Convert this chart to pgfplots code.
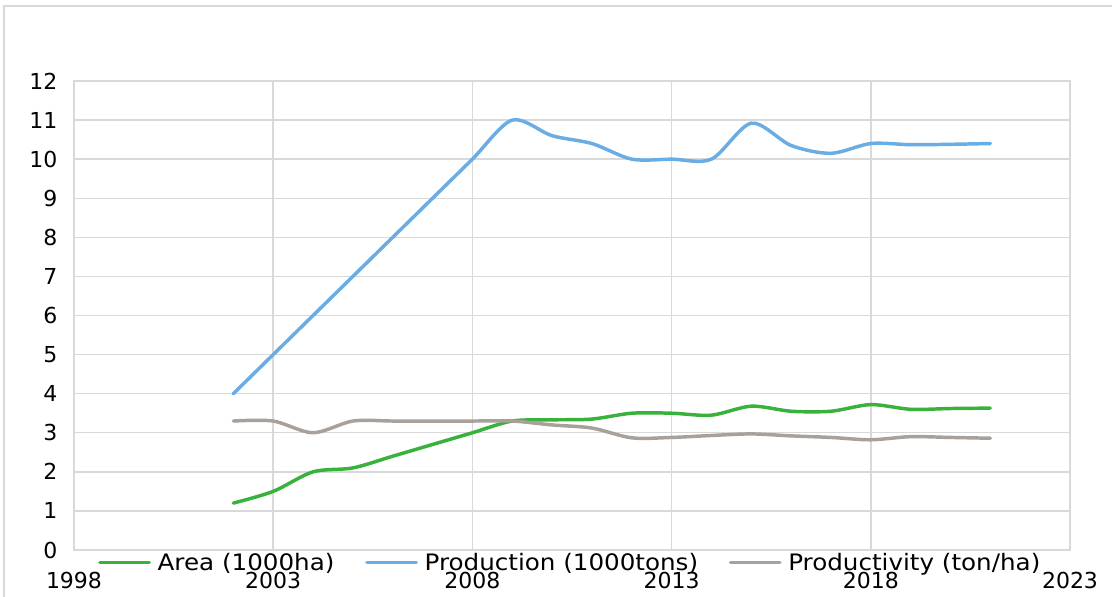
\documentclass[border=0pt]{standalone}
\usepackage{pgfplots}
\pgfplotsset{compat=1.18}
\usepackage{fontspec}
\setmainfont{DejaVu Sans}
\newfontfamily\legfont[FakeStretch=1.085]{DejaVu Sans}
\definecolor{areagreen}{HTML}{38B23B}
\definecolor{prodblue}{HTML}{6AADE4}
\definecolor{prodgray}{HTML}{A8A09A}
\definecolor{gridgray}{HTML}{D9D9D9}

\begin{document}
\begin{tikzpicture}
\begin{scope}[x=0.75pt,y=0.75pt]
\useasboundingbox (-74,-46) rectangle (1038,550);
\draw[gridgray, line width=1.2pt] (-70,-60) -- (-70,544) -- (1060,544);
\end{scope}
\begin{axis}[
at={(0,0)}, anchor=south west,
scale only axis,
width=747pt, height=351.75pt,
xmin=1998, xmax=2023,
ymin=0, ymax=12,
xtick={1998,2003,...,2023},
ytick={0,1,...,12},
grid=major,
major grid style={gridgray, line width=1.1pt},
axis line style={gridgray, line width=1.1pt},
major tick length=0pt,
/pgf/number format/1000 sep={},
/pgf/number format/assume math mode=true,
tick label style={font=\fontsize{16.5}{19}\selectfont, black},
xticklabel style={yshift=-13pt},
yticklabel style={xshift=-9pt},
legend columns=3,
legend style={draw=none, fill=none, at={(0.024,-0.027)}, anchor=west,
  font=\legfont\fontsize{17}{20}\selectfont, inner sep=0pt,
  /tikz/every odd column/.append style={column sep=3pt},
  /tikz/every even column/.append style={column sep=21pt}},
legend image code/.code={\draw[#1] (0pt,0pt) -- (37pt,0pt);},
every axis plot/.append style={line width=2.6pt, smooth, tension=0.5, line cap=round},
]
\addplot[areagreen] coordinates {
(2002,1.20) (2003,1.50) (2004,2.00) (2005,2.10) (2006,2.40) (2007,2.70)
(2008,3.00) (2009,3.30) (2010,3.33) (2011,3.35) (2012,3.50) (2013,3.50)
(2014,3.45) (2015,3.68) (2016,3.55) (2017,3.55) (2018,3.72) (2019,3.60)
(2020,3.62) (2021,3.63)
};
\addplot[prodblue] coordinates {
(2002,4.00) (2003,5.00) (2004,6.00) (2005,7.00) (2006,8.00) (2007,9.00)
(2008,10.00) (2009,11.00) (2010,10.60) (2011,10.40) (2012,10.00) (2013,10.00)
(2014,10.00) (2015,10.92) (2016,10.35) (2017,10.15) (2018,10.40) (2019,10.37)
(2020,10.38) (2021,10.40)
};
\addplot[prodgray] coordinates {
(2002,3.30) (2003,3.30) (2004,3.00) (2005,3.30) (2006,3.30) (2007,3.30)
(2008,3.30) (2009,3.30) (2010,3.20) (2011,3.12) (2012,2.87) (2013,2.88)
(2014,2.93) (2015,2.97) (2016,2.92) (2017,2.88) (2018,2.82) (2019,2.90)
(2020,2.88) (2021,2.86)
};
\legend{Area (1000ha), Production (1000tons), Productivity (ton/ha)}
\end{axis}
\end{tikzpicture}
\end{document}
